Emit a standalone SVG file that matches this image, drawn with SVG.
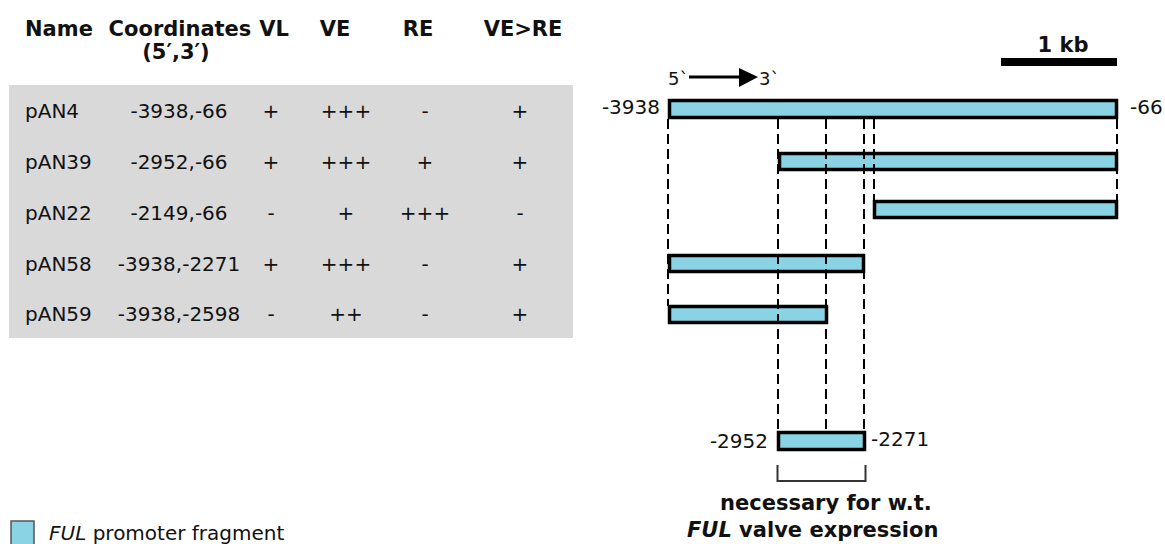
<svg xmlns="http://www.w3.org/2000/svg" width="1165" height="544" viewBox="0 0 1165 544">
<style>
text{font-family:"DejaVu Sans","Liberation Sans",sans-serif;fill:#111}
.r{font-size:20px}
.b{font-size:21px;font-weight:bold}
.m{text-anchor:middle}
.e{text-anchor:end}
.bar{fill:#8ad3e5;stroke:#000;stroke-width:3.5}
.dash{stroke:#000;stroke-width:2;stroke-dasharray:10 5;fill:none}
</style>
<rect width="1165" height="544" fill="#fff"/>
<g id="table">
<rect x="9" y="85" width="564" height="253" fill="#d9d9d9"/>
<text class="b" x="25" y="36">Name</text>
<text class="b m" x="180" y="36">Coordinates</text>
<text class="b m" x="176" y="59">(5′,3′)</text>
<text class="b m" x="274" y="36">VL</text>
<text class="b m" x="335" y="36">VE</text>
<text class="b m" x="418" y="36">RE</text>
<text class="b m" x="523" y="36">VE&gt;RE</text>
<g id="row-pAN4"><text class="r" x="25" y="118">pAN4</text><text class="r m" x="179" y="118">-3938,-66</text><text class="r m" x="271" y="118">+</text><text class="r m" x="346" y="118">+++</text><text class="r m" x="425" y="118">-</text><text class="r m" x="520" y="118">+</text></g>
<g id="row-pAN39"><text class="r" x="25" y="169">pAN39</text><text class="r m" x="179" y="169">-2952,-66</text><text class="r m" x="271" y="169">+</text><text class="r m" x="346" y="169">+++</text><text class="r m" x="425" y="169">+</text><text class="r m" x="520" y="169">+</text></g>
<g id="row-pAN22"><text class="r" x="25" y="220">pAN22</text><text class="r m" x="179" y="220">-2149,-66</text><text class="r m" x="271" y="220">-</text><text class="r m" x="346" y="220">+</text><text class="r m" x="425" y="220">+++</text><text class="r m" x="520" y="220">-</text></g>
<g id="row-pAN58"><text class="r" x="25" y="271">pAN58</text><text class="r m" x="179" y="271">-3938,-2271</text><text class="r m" x="271" y="271">+</text><text class="r m" x="346" y="271">+++</text><text class="r m" x="425" y="271">-</text><text class="r m" x="520" y="271">+</text></g>
<g id="row-pAN59"><text class="r" x="25" y="321">pAN59</text><text class="r m" x="179" y="321">-3938,-2598</text><text class="r m" x="271" y="321">-</text><text class="r m" x="346" y="321">++</text><text class="r m" x="425" y="321">-</text><text class="r m" x="520" y="321">+</text></g>
</g>
<g id="scale">
<rect x="1001" y="58" width="116" height="8" fill="#000"/>
<text class="b m" x="1063" y="52">1 kb</text>
</g>
<g id="direction">
<text class="r" x="668" y="85" style="font-size:18px">5`</text>
<line x1="689" y1="77" x2="742" y2="77" stroke="#000" stroke-width="3"/>
<polygon points="739,68 758,77 739,87" fill="#000"/>
<text class="r" x="759" y="85" style="font-size:18px">3`</text>
</g>
<g id="pAN4"><rect class="bar" x="669.5" y="100.5" width="447" height="17"/><text class="r e" x="660" y="114">-3938</text><text class="r" x="1130" y="114">-66</text></g>
<g id="pAN39"><rect class="bar" x="779.5" y="153.5" width="337" height="16"/></g>
<g id="pAN22"><rect class="bar" x="874.5" y="201.5" width="242" height="16"/></g>
<g id="pAN58"><rect class="bar" x="669.5" y="255.5" width="194" height="16"/></g>
<g id="pAN59"><rect class="bar" x="669.5" y="306.5" width="157" height="16"/></g>
<g id="minimal"><rect class="bar" x="778.5" y="432.5" width="86" height="17"/><text class="r e" x="768" y="448">-2952</text><text class="r" x="871" y="446">-2271</text></g>
<g id="connectors">
<line class="dash" x1="668" y1="119" x2="668" y2="306"/>
<line class="dash" x1="778" y1="119" x2="778" y2="432"/>
<line class="dash" x1="826" y1="119" x2="826" y2="432"/>
<line class="dash" x1="864" y1="119" x2="864" y2="432"/>
<line class="dash" x1="874" y1="119" x2="874" y2="201"/>
<line class="dash" x1="1117" y1="119" x2="1117" y2="201"/>
<polyline points="777.5,465 777.5,481 865.5,481 865.5,465" fill="none" stroke="#333" stroke-width="2"/>
</g>
<g id="note">
<text class="b" x="720" y="510">necessary for w.t.</text>
<text class="b" x="687" y="537"><tspan font-style="italic">FUL</tspan> valve expression</text>
</g>
<g id="legend">
<rect x="11" y="521" width="23" height="26" fill="#8ad3e5" stroke="#555" stroke-width="1.5"/>
<text class="r" x="49" y="540"><tspan font-style="italic">FUL</tspan> promoter fragment</text>
</g>
</svg>
